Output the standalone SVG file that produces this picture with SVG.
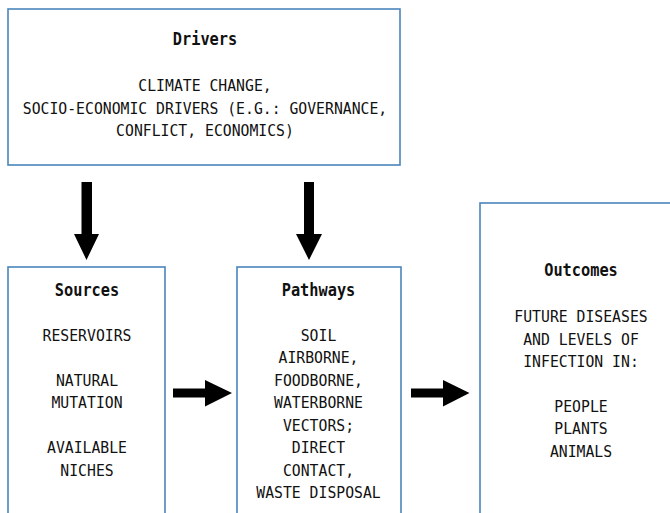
<svg xmlns="http://www.w3.org/2000/svg" width="670" height="513" viewBox="0 0 670 513">
<style>
.box{fill:#fff;stroke:#4a85bb;stroke-width:1.6}
text{font-family:"DejaVu Sans Mono","Liberation Mono",monospace;font-size:16.6px;fill:#111;text-anchor:middle}
.t{font-weight:bold;font-size:17.2px}
.arr{fill:#000}
</style>
<rect width="670" height="513" fill="#fff"/>
<g id="drivers">
<rect class="box" x="8" y="9" width="392" height="156"/>
<g transform="translate(205,0) scale(0.89,1)">
<text class="t" x="0" y="45">Drivers</text>
<text x="0" y="91.5">CLIMATE CHANGE,</text>
<text x="0" y="114">SOCIO-ECONOMIC DRIVERS (E.G.: GOVERNANCE,</text>
<text x="0" y="136.5">CONFLICT, ECONOMICS)</text>
</g>
</g>
<g id="sources">
<rect class="box" x="8" y="267" width="157" height="260"/>
<g transform="translate(87,0) scale(0.89,1)">
<text class="t" x="0" y="296">Sources</text>
<text x="0" y="340.7">RESERVOIRS</text>
<text x="0" y="386">NATURAL</text>
<text x="0" y="408.5">MUTATION</text>
<text x="0" y="453.5">AVAILABLE</text>
<text x="0" y="476">NICHES</text>
</g>
</g>
<g id="pathways">
<rect class="box" x="237" y="267" width="164" height="260"/>
<g transform="translate(318.5,0) scale(0.89,1)">
<text class="t" x="0" y="296">Pathways</text>
<text x="0" y="340.7">SOIL</text>
<text x="0" y="363.2">AIRBORNE,</text>
<text x="0" y="385.7">FOODBORNE,</text>
<text x="0" y="408.2">WATERBORNE</text>
<text x="0" y="430.7">VECTORS;</text>
<text x="0" y="453.2">DIRECT</text>
<text x="0" y="475.7">CONTACT,</text>
<text x="0" y="498.2">WASTE DISPOSAL</text>
</g>
</g>
<g id="outcomes">
<rect class="box" x="480" y="203" width="202" height="330"/>
<g transform="translate(581,0) scale(0.89,1)">
<text class="t" x="0" y="276">Outcomes</text>
<text x="0" y="322.5">FUTURE DISEASES</text>
<text x="0" y="345">AND LEVELS OF</text>
<text x="0" y="367.5">INFECTION IN:</text>
<text x="0" y="412">PEOPLE</text>
<text x="0" y="434.5">PLANTS</text>
<text x="0" y="457">ANIMALS</text>
</g>
</g>
<g id="connectors">
<polygon class="arr" points="81.5,182 92,182 92,234 99,234 86.5,260 74,234 81.5,234"/>
<polygon class="arr" points="304,182 314,182 314,234 322,234 309,260 296,234 304,234"/>
<polygon class="arr" points="173,388.5 205,388.5 205,380 232,393 205,406.5 205,397.5 173,397.5"/>
<polygon class="arr" points="411,388.5 443,388.5 443,380 469.5,393 443,406.5 443,397.5 411,397.5"/>
</g>
</svg>
